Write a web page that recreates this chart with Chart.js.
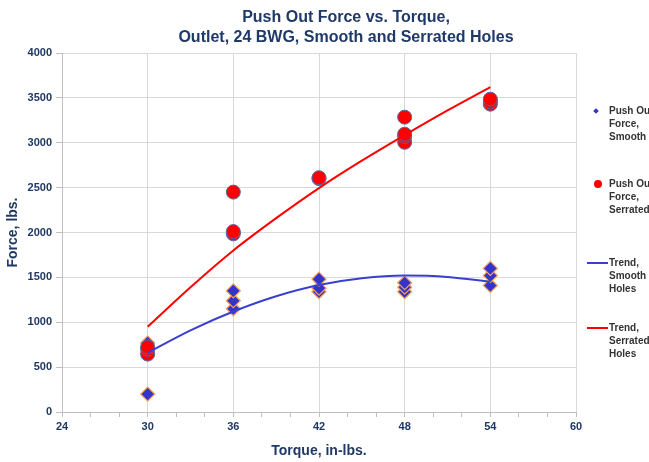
<!DOCTYPE html>
<html>
<head>
<meta charset="utf-8">
<title>Push Out Force vs. Torque</title>
<script src="https://cdn.jsdelivr.net/npm/chart.js"></script>
<style>
  body { margin: 0; background: #fff; overflow: hidden; font-family: "Liberation Sans", Arial, sans-serif; }
  #wrap { position: relative; width: 649px; height: 462px; }
  #title { position: absolute; left: 146px; width: 400px; top: 7px; text-align: center;
           font-weight: bold; font-size: 16px; line-height: 20px; color: #1F3A68; }
  .leg { position: absolute; left: 609px; white-space: nowrap; font-weight: bold; font-size: 10px; line-height: 13px; color: #333; }
  .mk { position: absolute; }
</style>
</head>
<body>
<div id="wrap">
  <canvas id="ForceChart" width="649" height="462"></canvas>
  <div id="title">Push Out Force vs. Torque,<br>Outlet, 24 BWG, Smooth and Serrated Holes</div>
  <div id="legend"></div>
</div>
<script>
// measured points, torque (in-lbs) / force (lbs)
const smoothX = [30, 30, 30, 30, 36, 36, 36, 42, 42, 42, 48, 48, 48, 54, 54, 54];
const smoothY = [200, 650, 700, 770, 1150, 1240, 1350, 1340, 1380, 1480, 1340, 1390, 1440, 1410, 1520, 1600];

const serratedX = [30, 30, 30, 36, 36, 36, 42, 42, 48, 48, 48, 48, 54, 54, 54];
const serratedY = [645, 700, 725, 1985, 2010, 2450, 2600, 2610, 3005, 3070, 3095, 3285, 3430, 3455, 3485];

// trend curves
const trendX = [30, 33, 36, 39, 42, 45, 48, 51, 54];
const trendSmooth = [660, 910, 1120, 1290, 1415, 1490, 1520, 1505, 1450];
const trendSerrated = [950, 1390, 1800, 2160, 2495, 2800, 3085, 3360, 3620];

const xTicks = [24, 30, 36, 42, 48, 54, 60];
const yMax = 4000;

const pts = (xs, ys) => xs.map((x, i) => ({ x: x, y: ys[i] }));

const navy = '#1F3864';
const tickFont = { family: '"Liberation Sans", Arial, sans-serif', size: 11, weight: 'bold' };
const titleFont = { family: '"Liberation Sans", Arial, sans-serif', size: 14, weight: 'bold' };

const ctx = document.getElementById("ForceChart");
new Chart(ctx, {
  type: "scatter",
  data: {
    datasets: [
      {
        label: "Trend, Smooth Holes",
        type: "line",
        data: pts(trendX, trendSmooth),
        borderColor: "#3A3FD0",
        borderWidth: 2,
        pointRadius: 0,
        cubicInterpolationMode: "monotone",
        fill: false,
        order: 0
      },
      {
        label: "Trend, Serrated Holes",
        type: "line",
        data: pts(trendX, trendSerrated),
        borderColor: "#FF0000",
        borderWidth: 2,
        pointRadius: 0,
        cubicInterpolationMode: "monotone",
        fill: false,
        order: 0
      },
      {
        label: "Push Out Force, Serrated",
        data: pts(serratedX, serratedY),
        pointStyle: "circle",
        pointRadius: 7,
        backgroundColor: "#FF0000",
        borderColor: "#5468A8",
        borderWidth: 1,
        order: 1
      },
      {
        label: "Push Out Force, Smooth",
        data: pts(smoothX, smoothY),
        pointStyle: "rectRot",
        pointRadius: 7,
        backgroundColor: "#3434C8",
        borderColor: "#F5A05A",
        borderWidth: 1.2,
        order: 2
      }
    ]
  },
  options: {
    responsive: false,
    animation: false,
    layout: { padding: { top: 53, right: 73, left: 0, bottom: 0 } },
    plugins: {
      legend: { display: false },
      title: { display: false },
      tooltip: { enabled: false }
    },
    scales: {
      x: {
        type: "linear",
        min: xTicks[0],
        max: xTicks[xTicks.length - 1],
        afterFit: s => { s.height = 50; },
        ticks: {
          stepSize: 2,
          autoSkip: false,
          maxRotation: 0,
          padding: 3,
          color: navy,
          font: tickFont,
          callback: v => xTicks.includes(v) ? String(v) : ''
        },
        grid: {
          color: c => (c.tick && xTicks.includes(c.tick.value)) ? '#D9D9D9' : 'rgba(0,0,0,0)',
          tickColor: '#BFBFBF',
          tickLength: 5
        },
        border: { color: '#BFBFBF' },
        title: {
          display: true,
          text: "Torque, in-lbs.",
          color: navy,
          font: titleFont,
          padding: { top: 0, bottom: 2 }
        }
      },
      y: {
        min: 0,
        max: yMax,
        afterFit: s => { s.width = 62; },
        ticks: { stepSize: 500, padding: 4, color: navy, font: tickFont, callback: v => String(v) },
        grid: { color: '#D9D9D9', tickColor: '#BFBFBF', tickLength: 6 },
        border: { color: '#BFBFBF' },
        title: {
          display: true,
          text: "Force, lbs.",
          color: navy,
          font: titleFont,
          padding: { top: 5, bottom: 5 }
        }
      }
    }
  }
});

// legend on the right, wrapped like the original
const legendItems = [
  { lines: ["Push Out", "Force,", "Smooth"], top: 104, marker: "diamond" },
  { lines: ["Push Out", "Force,", "Serrated"], top: 177, marker: "circle" },
  { lines: ["Trend,", "Smooth", "Holes"], top: 256, marker: "blueLine" },
  { lines: ["Trend,", "Serrated", "Holes"], top: 321, marker: "redLine" }
];
const legend = document.getElementById("legend");
legendItems.forEach(item => {
  const t = document.createElement("div");
  t.className = "leg";
  t.style.top = item.top + "px";
  t.innerHTML = item.lines.join("<br>");
  legend.appendChild(t);
  const m = document.createElement("div");
  m.className = "mk";
  const cy = item.top + 7;
  if (item.marker === "diamond") {
    Object.assign(m.style, { left: "594px", top: (cy - 2) + "px", width: "4px", height: "4px",
      background: "#3434C8", transform: "rotate(45deg)" });
  } else if (item.marker === "circle") {
    Object.assign(m.style, { left: "594px", top: (cy - 4) + "px", width: "8px", height: "8px",
      background: "#FF0000", borderRadius: "50%" });
  } else {
    Object.assign(m.style, { left: "587px", top: (cy - 1) + "px", width: "21px", height: "2px",
      background: item.marker === "blueLine" ? "#3A3FD0" : "#FF0000" });
  }
  legend.appendChild(m);
});
</script>
</body>
</html>
